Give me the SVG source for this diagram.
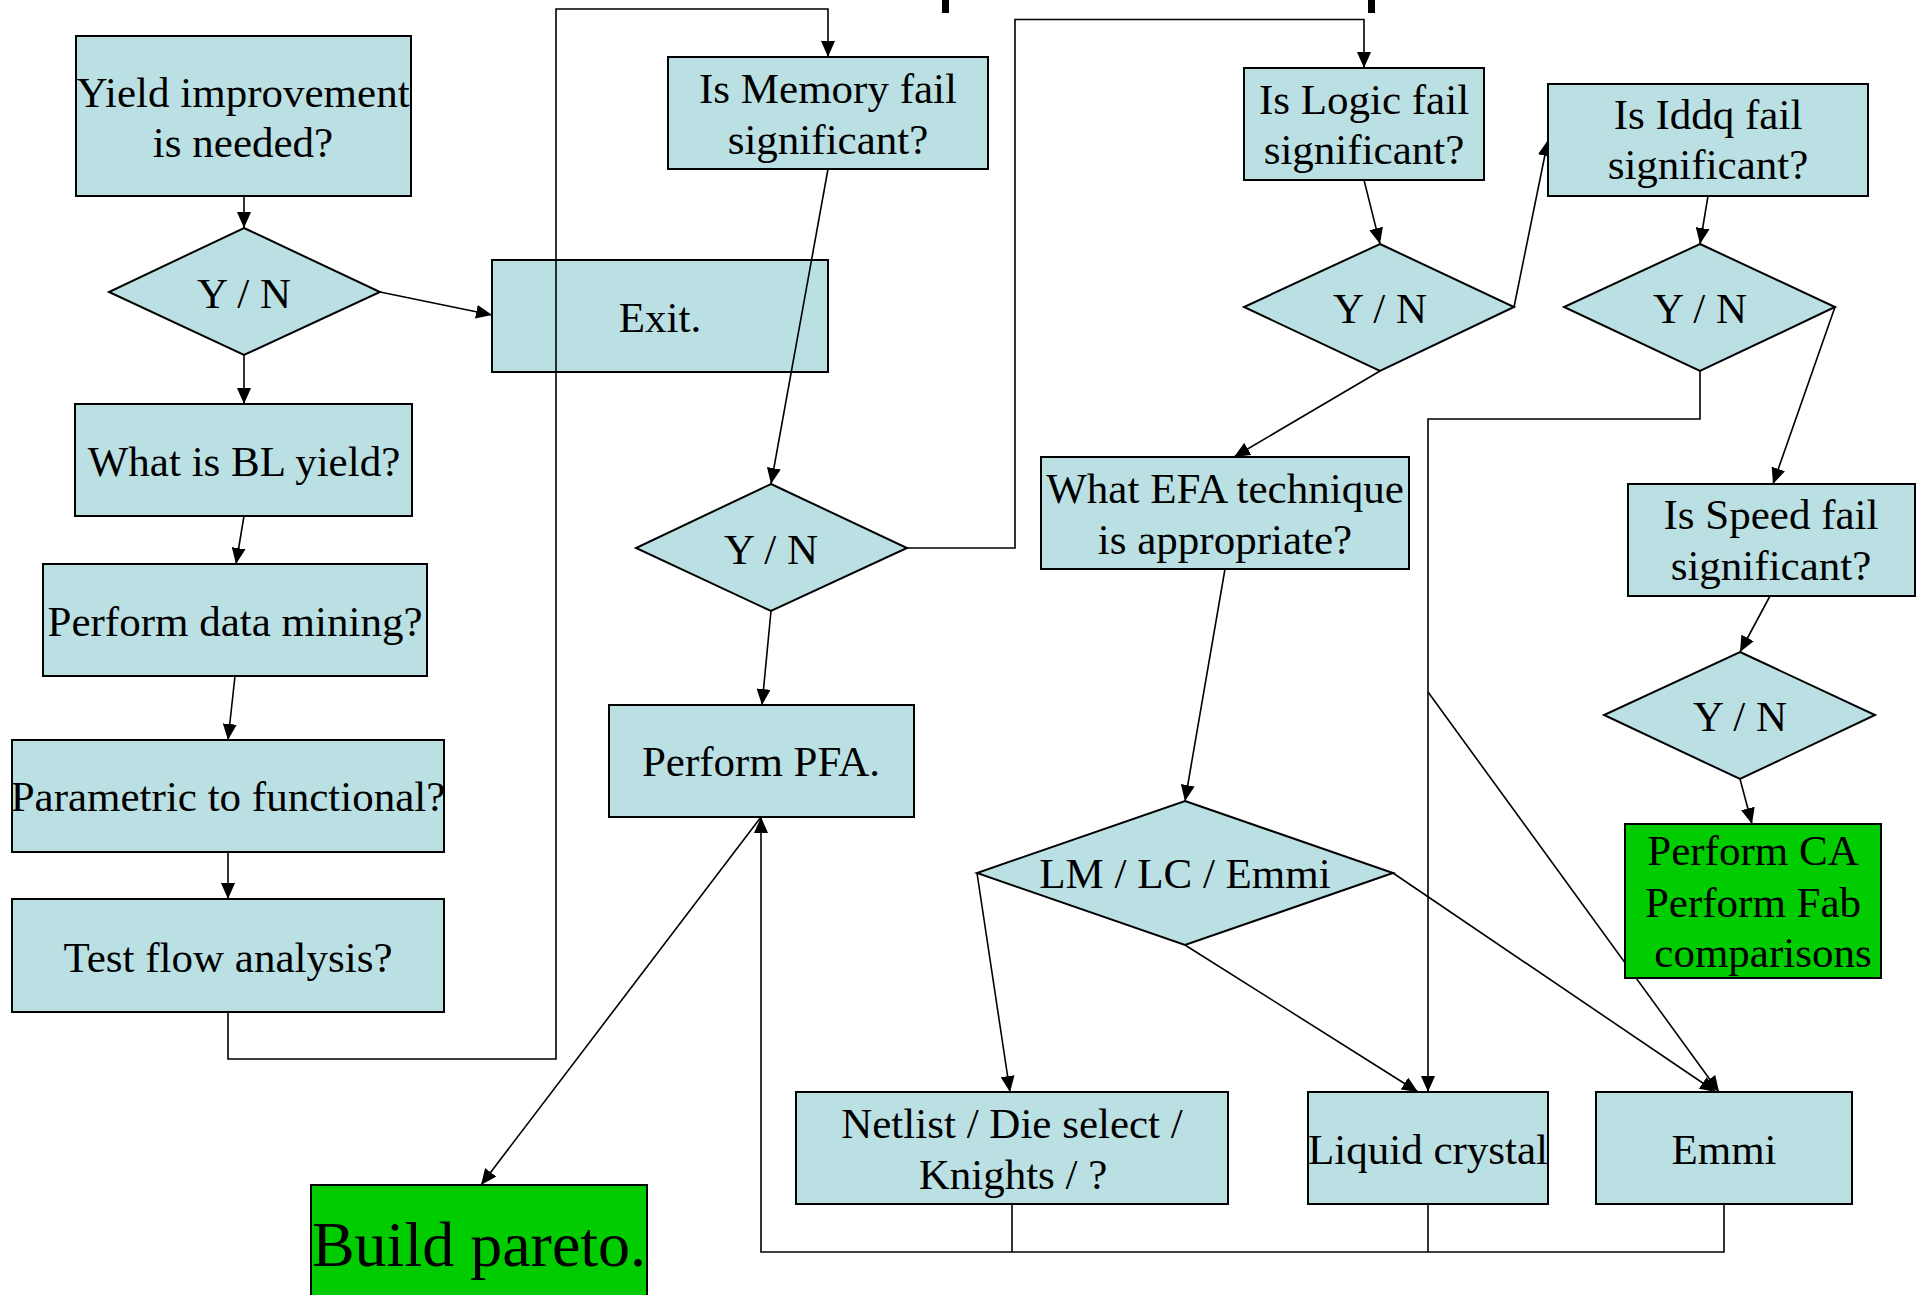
<svg xmlns="http://www.w3.org/2000/svg" width="1925" height="1295" viewBox="0 0 1925 1295">
<style>
.n{fill:#BBE0E3;stroke:#000;stroke-width:2}
.g{fill:#00CC00;stroke:#000;stroke-width:2}
.t{font-family:"Liberation Serif","Times New Roman",serif;font-size:43px;fill:#000;text-anchor:middle}
.c{fill:none;stroke:#000;stroke-width:1.6}
.a{marker-end:url(#ah)}
</style>
<defs>
<marker id="ah" viewBox="0 0 16 14" refX="16" refY="7" markerWidth="16" markerHeight="14" markerUnits="userSpaceOnUse" orient="auto">
<path d="M0,0 L16,7 L0,14 z" fill="#000"/>
</marker>
</defs>
<rect width="1925" height="1295" fill="#fff"/>
<rect x="942" y="0" width="7" height="13" fill="#000"/>
<rect x="1368" y="0" width="7" height="13" fill="#000"/>
<g id="exit"><rect class="n" x="492" y="260" width="336" height="112"/><text class="t" x="660" y="332">Exit.</text></g>
<g id="connectors">
<path class="c a" d="M244,196 L244,228"/>
<path class="c a" d="M380,292 L492,315"/>
<path class="c a" d="M244,355 L244,404"/>
<path class="c a" d="M244,516 L236,564"/>
<path class="c a" d="M235,676 L228,740"/>
<path class="c a" d="M228,852 L228,899"/>
<path class="c a" d="M228,1012 L228,1059 L556,1059 L556,9 L828,9 L828,57"/>
<path class="c a" d="M828,169 L771,484"/>
<path class="c a" d="M771,611 L762,705"/>
<path class="c a" d="M907,548 L1015,548 L1015,19.5 L1364,19.5 L1364,68"/>
<path class="c a" d="M1364,180 L1380,244"/>
<path class="c a" d="M1514,307 L1548,140"/>
<path class="c a" d="M1708,196 L1700,244"/>
<path class="c a" d="M1700,371 L1700,419 L1428,419 L1428,1092"/>
<path class="c a" d="M1835,307 L1773,484"/>
<path class="c a" d="M1380,371 L1234,457"/>
<path class="c a" d="M1225,569 L1185,801"/>
<path class="c a" d="M1770,596 L1740,652"/>
<path class="c a" d="M1740,779 L1752,824"/>
<path class="c a" d="M977,873 L1010,1092"/>
<path class="c a" d="M1185,945 L1418,1092"/>
<path class="c a" d="M1393,873 L1716,1092"/>
<path class="c a" d="M1428,692 L1719,1092"/>
<path class="c" d="M1012,1204 L1012,1252"/>
<path class="c" d="M1428,1204 L1428,1252"/>
<path class="c a" d="M1724,1204 L1724,1252 L761,1252 L761,817"/>
<path class="c a" d="M761,817 L481,1185"/>
</g>
<g id="yield"><rect class="n" x="76" y="36" width="335" height="160"/><text class="t" x="243" y="107">Yield improvement</text><text class="t" x="243" y="157">is needed?</text></g>
<g id="d1"><polygon class="n" points="244,228 380,292 244,355 109,292"/><text class="t" x="244" y="308">Y / N</text></g>
<g id="bl"><rect class="n" x="75" y="404" width="337" height="112"/><text class="t" x="244" y="476">What is BL yield?</text></g>
<g id="dm"><rect class="n" x="43" y="564" width="384" height="112"/><text class="t" x="235" y="636">Perform data mining?</text></g>
<g id="param"><rect class="n" x="12" y="740" width="432" height="112"/><text class="t" x="228" y="811">Parametric to functional?</text></g>
<g id="tfa"><rect class="n" x="12" y="899" width="432" height="113"/><text class="t" x="228" y="972">Test flow analysis?</text></g>
<g id="mem"><rect class="n" x="668" y="57" width="320" height="112"/><text class="t" x="828" y="103">Is Memory fail</text><text class="t" x="828" y="154">significant?</text></g>
<g id="d2"><polygon class="n" points="771,484 907,548 771,611 636,548"/><text class="t" x="771" y="564">Y / N</text></g>
<g id="pfa"><rect class="n" x="609" y="705" width="305" height="112"/><text class="t" x="761" y="776">Perform PFA.</text></g>
<g id="pareto"><rect class="g" x="311" y="1185" width="336" height="125"/><text class="t" x="479" y="1266" style="font-size:64px">Build pareto.</text></g>
<g id="logic"><rect class="n" x="1244" y="68" width="240" height="112"/><text class="t" x="1364" y="114">Is Logic fail</text><text class="t" x="1364" y="164">significant?</text></g>
<g id="d3"><polygon class="n" points="1380,244 1514,307 1380,371 1244,307"/><text class="t" x="1380" y="323">Y / N</text></g>
<g id="iddq"><rect class="n" x="1548" y="84" width="320" height="112"/><text class="t" x="1708" y="129">Is Iddq fail</text><text class="t" x="1708" y="179">significant?</text></g>
<g id="d4"><polygon class="n" points="1700,244 1835,307 1700,371 1564,307"/><text class="t" x="1700" y="323">Y / N</text></g>
<g id="efa"><rect class="n" x="1041" y="457" width="368" height="112"/><text class="t" x="1225" y="503">What EFA technique</text><text class="t" x="1225" y="554">is appropriate?</text></g>
<g id="speed"><rect class="n" x="1628" y="484" width="287" height="112"/><text class="t" x="1771" y="529">Is Speed fail</text><text class="t" x="1771" y="580">significant?</text></g>
<g id="d5"><polygon class="n" points="1740,652 1875,715 1740,779 1604,715"/><text class="t" x="1740" y="731">Y / N</text></g>
<g id="ca"><rect class="g" x="1625" y="824" width="256" height="154"/><text class="t" x="1753" y="865">Perform CA</text><text class="t" x="1753" y="917">Perform Fab</text><text class="t" x="1763" y="967">comparisons</text></g>
<g id="lm"><polygon class="n" points="1185,801 1393,873 1185,945 977,873"/><text class="t" x="1185" y="888">LM / LC / Emmi</text></g>
<g id="netlist"><rect class="n" x="796" y="1092" width="432" height="112"/><text class="t" x="1012" y="1138">Netlist / Die select /</text><text class="t" x="1013" y="1189">Knights / ?</text></g>
<g id="lc"><rect class="n" x="1308" y="1092" width="240" height="112"/><text class="t" x="1428" y="1164">Liquid crystal</text></g>
<g id="emmi"><rect class="n" x="1596" y="1092" width="256" height="112"/><text class="t" x="1724" y="1164">Emmi</text></g>
</svg>
